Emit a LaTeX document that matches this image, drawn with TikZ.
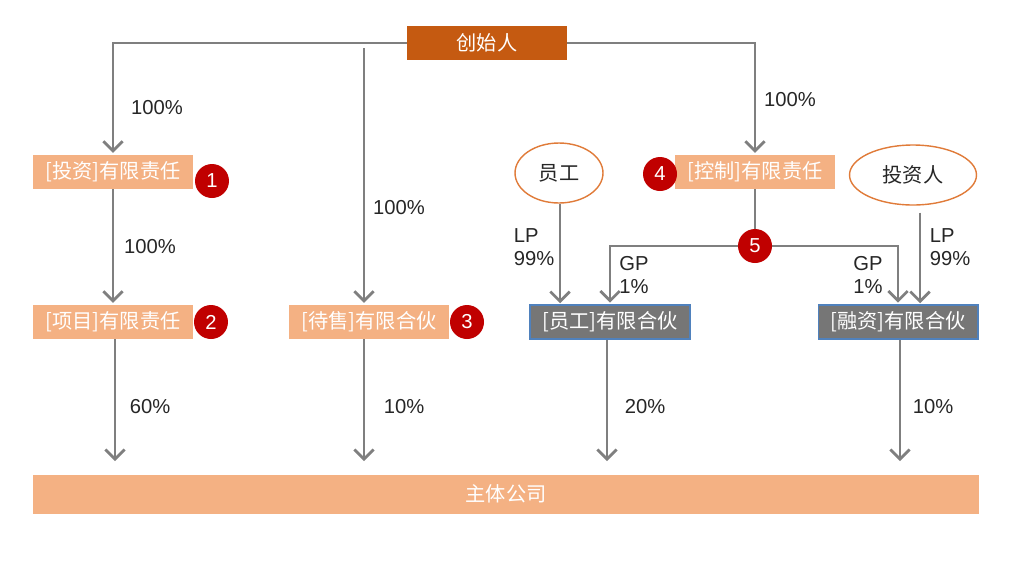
\documentclass[tikz,border=0pt]{standalone}
\usepackage{fontspec}
\setmainfont{Liberation Sans}
\newfontfamily\cjk{Noto Sans CJK SC}
\usetikzlibrary{arrows.meta,shapes.geometric}
\definecolor{founderorange}{HTML}{C55A11}
\definecolor{lightorange}{HTML}{F4B183}
\definecolor{arrowgrey}{HTML}{7F7F7F}
\definecolor{boxgrey}{HTML}{767676}
\definecolor{boxblue}{HTML}{4F81BD}
\definecolor{badgered}{HTML}{C00000}
\definecolor{ovalorange}{HTML}{E07B39}

\begin{document}
\begin{tikzpicture}[x=0.02cm,y=-0.02cm,
  owner/.style={draw=none,fill=lightorange,text=white,font=\cjk\fontsize{11.5}{13}\selectfont,
    minimum width=3.2cm,minimum height=0.68cm,inner sep=0pt},
  partner/.style={owner,fill=boxgrey,draw=boxblue,line width=0.6pt},
  person/.style={ellipse,draw=ovalorange,line width=0.8pt,fill=white,
    font=\cjk\fontsize{11.5}{13}\selectfont,text=black!85,inner sep=0pt},
  badge/.style={circle,fill=badgered,text=white,font=\fontsize{11.5}{13}\selectfont,
    minimum size=0.68cm,inner sep=0pt},
  link/.style={draw=arrowgrey,line width=1.6pt},
  flow/.style={link,-{Straight Barb[length=5.5pt,width=11pt,line width=1.6pt]},shorten >=1pt},
  pct/.style={font=\fontsize{11.5}{13.5}\selectfont,text=black!85,align=left}]
\useasboundingbox (0,0) rectangle (1024,562);

% people and companies
\node[owner,fill=founderorange] (fdr) at (487,43) {创始人};
\node[owner] (inv) at (113,172) {[投资]有限责任};
\node[owner] (prj) at (113,322) {[项目]有限责任};
\node[owner] (sale) at (369,322) {[待售]有限合伙};
\node[owner] (ctl) at (755,172) {[控制]有限责任};
\node[partner] (emp) at (610,322) {[员工]有限合伙};
\node[partner] (fin) at (898,322) {[融资]有限合伙};
\node[person,minimum width=1.76cm,minimum height=1.2cm] (staff) at (559,173) {员工};
\node[person,minimum width=2.54cm,minimum height=1.2cm] (ivr) at (913,175) {投资人};
\node[owner,minimum width=18.92cm,minimum height=0.78cm] (main) at (506,494) {主体公司};

% badges
\node[badge] (b1) at (212,181) {1};
\node[badge] (b2) at (211,322) {2};
\node[badge] (b3) at (467,322) {3};
\node[badge] (b4) at (660,174) {4};

% free ends
\coordinate (saletop) at (364,48);
\coordinate (lpin) at (920,305);
\coordinate (lpemp) at (560,305);

% connectors
\draw[flow] (fdr.west) -| (inv.north);
\draw[flow] (fdr.east) -| (ctl.north);
\draw[flow] (saletop) -- (saletop |- sale.north);
\draw[flow] (inv.south) -- (prj.north);
\draw[link] (ctl.south) -- (755,246) coordinate (split);
\draw[flow] (split) -| (emp.north);
\draw[flow] (split) -| (fin.north);
\draw[flow] (staff.south -| lpemp) -- (lpemp);
\draw[flow] (ivr.south -| lpin) ++(0,7) -- (lpin);
\node[badge] (b5) at (split) {5};
\draw[flow,shorten >=0.26cm] (prj.south -| 115,0) -- (main.north -| 115,0);
\draw[flow,shorten >=0.26cm] (sale.south -| saletop) -- (main.north -| saletop);
\draw[flow,shorten >=0.26cm] (emp.south -| 607,0) -- (main.north -| 607,0);
\draw[flow,shorten >=0.26cm] (fin.south -| 900,0) -- (main.north -| 900,0);

% shares
\node[pct] at (157,108) {100\%};
\node[pct] at (150,247) {100\%};
\node[pct] at (399,208) {100\%};
\node[pct] at (790,100) {100\%};
\node[pct] at (534,247) {LP\\99\%};
\node[pct] at (950,247) {LP\\99\%};
\node[pct] at (634,275) {GP\\1\%};
\node[pct] at (868,275) {GP\\1\%};
\node[pct] at (150,407) {60\%};
\node[pct] at (404,407) {10\%};
\node[pct] at (645,407) {20\%};
\node[pct] at (933,407) {10\%};
\end{tikzpicture}
\end{document}
